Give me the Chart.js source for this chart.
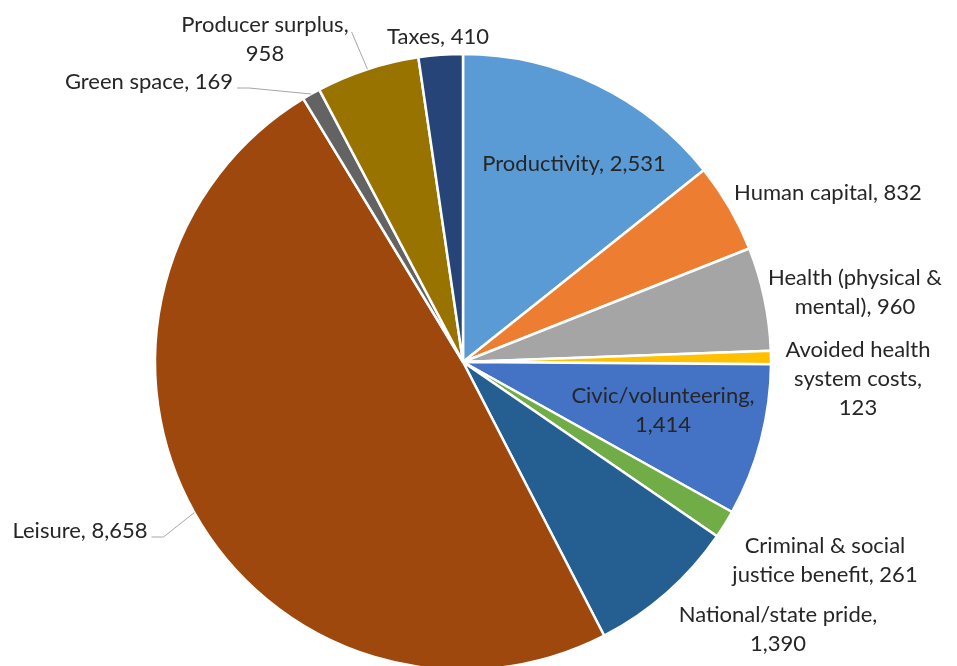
<!DOCTYPE html>
<html>
<head>
<meta charset="utf-8">
<script src="https://cdn.jsdelivr.net/npm/chart.js@4/dist/chart.umd.min.js"></script>
<style>
html,body{margin:0;padding:0;background:#fff;overflow:hidden;}
#wrap{width:957px;height:666px;overflow:hidden;position:relative;}
canvas{display:block;}
</style>
</head>
<body>
<div id="wrap"><canvas id="c" width="957" height="690"></canvas></div>
<script>
// ---- data ----
const categories = ["Productivity","Human capital","Health (physical & mental)","Avoided health system costs","Civic/volunteering","Criminal & social justice benefit","National/state pride","Leisure","Green space","Producer surplus","Taxes"];
const values = [2531, 832, 960, 123, 1414, 261, 1390, 8658, 169, 958, 410];
const labelLines = [
  ["Productivity, 2,531"],
  ["Human capital, 832"],
  ["Health (physical &","mental), 960"],
  ["Avoided health","system costs,","123"],
  ["Civic/volunteering,","1,414"],
  ["Criminal & social","justice benefit, 261"],
  ["National/state pride,","1,390"],
  ["Leisure, 8,658"],
  ["Green space, 169"],
  ["Producer surplus,","958"],
  ["Taxes, 410"]
];
const colors = ["#5B9BD5","#ED7D31","#A5A5A5","#FFC000","#4472C4","#70AD47","#255E91","#9E480E","#636363","#997300","#264478"];

// ---- label layout (text centre of first line, line height) ----
const labelLayout = [
  {x:574, y:164},
  {x:828, y:193},
  {x:855, y:278},
  {x:858, y:350},
  {x:663, y:396},
  {x:825, y:546},
  {x:778, y:615},
  {x:80,  y:531, leader:"left"},
  {x:149, y:82,  leader:"left"},
  {x:265, y:25,  leader:"top"},
  {x:438, y:37}
];
const lineHeight = 29;
const FONT = "22px Lato";

const labelPlugin = {
  id: "labels",
  afterDatasetsDraw(chart) {
    const ctx = chart.ctx;
    const meta = chart.getDatasetMeta(0);
    ctx.save();
    ctx.font = FONT;
    ctx.fillStyle = "#262626";
    ctx.textAlign = "center";
    ctx.textBaseline = "middle";
    meta.data.forEach((arc, i) => {
      const L = labelLayout[i];
      const lines = labelLines[i];
      lines.forEach((t, k) => ctx.fillText(t, L.x, L.y + k * lineHeight));
      if (L.leader) {
        const p = arc.getProps(["x","y","startAngle","endAngle","outerRadius"], true);
        const mid = (p.startAngle + p.endAngle) / 2;
        const ex = p.x + Math.cos(mid) * p.outerRadius;
        const ey = p.y + Math.sin(mid) * p.outerRadius;
        ctx.beginPath();
        ctx.strokeStyle = "#A6A6A6";
        ctx.lineWidth = 1;
        const w = ctx.measureText(lines[0]).width;
        if (L.leader === "left") {
          const sx = L.x + w / 2 + 4;
          const sy = L.y + 6;
          ctx.moveTo(sx, sy);
          ctx.lineTo(sx + 12, sy);
          ctx.lineTo(ex, ey);
        } else {
          const sx = L.x + w / 2 + 3;
          const sy = L.y + 7;
          ctx.moveTo(sx, sy);
          ctx.lineTo(ex, ey);
        }
        ctx.stroke();
      }
    });
    ctx.restore();
  }
};

new Chart(document.getElementById("c"), {
  type: "pie",
  data: {
    labels: categories,
    datasets: [{
      data: values,
      backgroundColor: colors,
      borderColor: "#ffffff",
      borderWidth: 2.5,
      hoverOffset: 0,
      offset: 0
    }]
  },
  options: {
    responsive: false,
    animation: false,
    radius: 308,
    layout: { padding: { top: 54, bottom: 20, left: 155, right: 186 } },
    plugins: { legend: { display: false }, tooltip: { enabled: false } }
  },
  plugins: [labelPlugin]
});
</script>
</body>
</html>
